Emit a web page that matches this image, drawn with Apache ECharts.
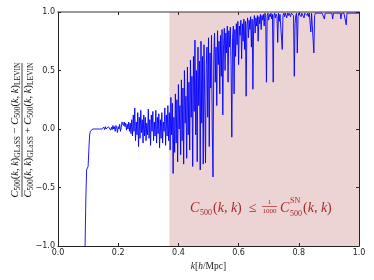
<!DOCTYPE html>
<html>
<head>
<meta charset="utf-8">
<script src="https://cdn.jsdelivr.net/npm/echarts@6/dist/echarts.min.js"></script>
<style>html,body{margin:0;padding:0;background:#fff}#c{width:374px;height:280px}</style>
</head>
<body>
<div id="c"></div>
<script>
// k grid (h/Mpc)
const K_START = 0.09;
const K_STEP = 0.0025;
// relative difference (GLaSS - LEVIN)/(GLaSS + LEVIN)
const ratioValues = [
  -1.0, -0.60, -0.35, -0.34, -0.32, -0.18, -0.05, -0.02, -0.01, -0.005, 0.0, 0.0, 0.005, 0.0, 0.005, 0.005, 0.0, 0.005, 0.01, 0.0,
  0.005, 0.01, 0.0, 0.01, 0.005, 0.015, -0.005, 0.02, 0.0, 0.015, -0.01, 0.02, 0.005, 0.025, -0.01, 0.015, -0.005, 0.03, 0.0, 0.02,
  -0.02, 0.03, 0.01, -0.03, 0.02, 0.0, 0.04, -0.02, 0.01, 0.06, 0.075, 0.03, 0.06, 0.02, 0.05, -0.01, 0.04, 0.0, 0.06, -0.02,
  0.05, -0.04, 0.08, -0.06, 0.12, -0.02, 0.18, -0.10, 0.06, -0.05, 0.14, -0.15, 0.10, -0.08, 0.16, -0.03, 0.08, -0.12, 0.12, -0.06,
  0.10, -0.10, 0.05, -0.05, 0.17, -0.08, 0.08, -0.14, 0.12, -0.02, 0.15, -0.10, 0.06, -0.06, 0.16, -0.12, 0.10, -0.04, 0.13, -0.16,
  0.08, -0.08, 0.14, -0.12, 0.06, -0.02, 0.18, -0.14, 0.12, -0.06, 0.20, -0.10, 0.14, -0.18, 0.27, -0.05, 0.22, -0.38, 0.10, -0.20,
  0.30, -0.12, 0.25, -0.28, 0.38, 0.0, 0.20, -0.22, 0.42, -0.10, 0.35, -0.30, 0.50, 0.05, 0.28, -0.25, 0.53, -0.05, 0.40, -0.18,
  0.59, 0.10, 0.45, -0.32, 0.62, 0.15, 0.76, -0.05, 0.50, -0.28, 0.70, 0.20, 0.58, -0.35, 0.75, 0.05, 0.62, -0.30, 0.72, 0.25,
  -0.29, 0.55, 0.70, 0.10, 0.78, -0.15, 0.65, 0.35, 0.80, 0.0, -0.41, 0.60, 0.82, 0.40, 0.70, 0.20, 0.84, 0.55, 0.75, 0.30,
  0.80, 0.45, 0.85, 0.12, 0.72, 0.86, 0.50, 0.82, 0.65, 0.88, 0.40, 0.84, 0.70, 0.87, 0.55, -0.07, 0.78, 0.88, 0.30, 0.85,
  0.62, 0.90, 0.72, 0.92, 0.55, 0.88, 0.80, 0.93, 0.60, 0.90, 0.75, 0.94, 0.68, 0.92, 0.28, 0.88, 0.95, 0.78, 0.93, 0.85,
  0.96, 0.70, 0.94, 0.34, 0.90, 0.97, 0.82, 0.95, 0.88, 0.97, 0.75, 0.96, 0.90, 0.98, 0.85, 0.97, 0.93, 0.98, 0.88, 0.99,
  0.95, 0.40, 0.97, 0.99, 0.93, 0.98, 0.96, 0.99, 0.94, 0.98, 0.40, 0.97, 0.99, 0.95, 0.98, 0.96, 0.74, 0.99, 0.92, 0.98,
  0.97, 0.99, 0.68, 0.97, 0.99, 0.96, 0.99, 0.98, 0.95, 0.99, 0.97, 0.99, 0.98, 0.96, 0.99, 0.98, 0.99, 0.97, 0.45, 0.90,
  0.97, 0.99, 0.65, 0.96, 0.99, 0.98, 0.99, 0.96, 0.99, 0.98, 0.99, 0.95, 0.99, 0.98, 0.99, 0.97, 0.99, 0.96, 0.99, 0.98,
  0.83, 0.99, 0.98, 0.99, 0.65, 0.97, 0.99, 0.99, 0.98, 0.99, 0.99, 0.98, 0.99, 0.99, 0.98, 0.99, 0.99, 0.98, 0.94, 0.99,
  0.99, 0.98, 0.99, 0.99, 0.98, 0.99, 0.99, 0.98, 0.99, 0.94, 0.99, 0.99, 0.98, 0.99, 0.99, 0.98, 0.99, 0.99, 0.98, 0.99,
  0.94, 0.99, 0.99, 0.98, 0.99, 0.99, 0.98, 0.89, 0.99, 0.99, 0.98, 0.99, 0.99, 0.98, 0.99, 0.99, 0.98, 0.99, 0.99, 0.98,
  0.99, 0.99, 0.98, 0.99, 0.99
];
// shaded region where C500(k,k) <= C500^SN(k,k)/1000
const shadeRange = [0.37, 1.0];
const xTicks = [0.0, 0.2, 0.4, 0.6, 0.8, 1.0];
const yTicks = [-1.0, -0.5, 0.0, 0.5, 1.0];

const seriesData = ratioValues.map((v, i) => [+(K_START + i * K_STEP).toFixed(4), v]);

const SERIF = '"Liberation Serif", "DejaVu Serif", serif';
const SANS = '"DejaVu Sans", sans-serif';
const fmt = v => (v < 0 ? '\u2212' : '') + Math.abs(v).toFixed(1);

const chart = echarts.init(document.getElementById('c'), null, {renderer: 'canvas'});

const tickStyle = {show: true, inside: true, length: 3, lineStyle: {color: '#222', width: 1}};
const ANN = '#a52a2a';

const labelRich = {
  i: {fontFamily: SERIF, fontStyle: 'italic', fontSize: 10.5, lineHeight: 12.5, verticalAlign: 'middle', fill: '#111', color: '#111'},
  r: {fontFamily: SERIF, fontSize: 10.5, lineHeight: 12.5, verticalAlign: 'middle', fill: '#111', color: '#111'},
  s: {fontFamily: SERIF, fontSize: 7.5, lineHeight: 8.5, verticalAlign: 'bottom', fill: '#111', color: '#111'}
};
const numText = '{i|C}{s|500}{r|(}{i|k}{r|, }{i|k}{r|)}{s|GLaSS}{r| \u2212 }{i|C}{s|500}{r|(}{i|k}{r|, }{i|k}{r|)}{s|LEVIN}';
const denText = '{i|C}{s|500}{r|(}{i|k}{r|, }{i|k}{r|)}{s|GLaSS}{r| + }{i|C}{s|500}{r|(}{i|k}{r|, }{i|k}{r|)}{s|LEVIN}';

const annRich = {
  i: {fontFamily: SERIF, fontStyle: 'italic', fontSize: 14, fill: ANN, color: ANN},
  r: {fontFamily: SERIF, fontSize: 14, fill: ANN, color: ANN}
};

chart.setOption({
  animation: false,
  backgroundColor: '#fff',
  grid: {left: 58, right: 15, top: 12, bottom: 34, containLabel: false},
  xAxis: [{
    type: 'value', min: 0, max: 1, interval: 0.2,
    axisLine: {show: true, onZero: false, lineStyle: {color: '#222', width: 1}},
    axisTick: tickStyle,
    splitLine: {show: false},
    axisLabel: {margin: 3, fontSize: 8, fontFamily: SANS, color: '#222', formatter: v => fmt(v)},
    name: '{i|k}{r|[}{i|h}{r|/Mpc]}',
    nameLocation: 'middle', nameGap: 15,
    nameTextStyle: {
      fontFamily: SERIF, fontSize: 9, color: '#222',
      rich: {
        i: {fontFamily: SERIF, fontStyle: 'italic', fontSize: 9.5, color: '#222'},
        r: {fontFamily: SERIF, fontSize: 9.5, color: '#222'}
      }
    }
  }, {
    type: 'value', min: 0, max: 1, interval: 0.2, position: 'top',
    axisLine: {show: true, onZero: false, lineStyle: {color: '#999', width: 2}},
    axisTick: tickStyle, axisLabel: {show: false}, splitLine: {show: false}
  }],
  yAxis: [{
    type: 'value', min: -1, max: 1, interval: 0.5,
    axisLine: {show: true, onZero: false, lineStyle: {color: '#222', width: 1}},
    axisTick: tickStyle,
    splitLine: {show: false},
    axisLabel: {margin: 3, fontSize: 8, fontFamily: SANS, color: '#222', formatter: v => fmt(v)}
  }, {
    type: 'value', min: -1, max: 1, interval: 0.5, position: 'right',
    axisLine: {show: true, onZero: false, lineStyle: {color: '#222', width: 1}},
    axisTick: tickStyle, axisLabel: {show: false}, splitLine: {show: false}
  }],
  series: [{
    type: 'line',
    data: seriesData,
    showSymbol: false,
    symbol: 'none',
    sampling: null,
    clip: true,
    lineStyle: {color: '#0000ff', width: 0.9},
    markArea: {
      silent: true,
      itemStyle: {color: 'rgba(165,42,42,0.2)'},
      data: [[{xAxis: shadeRange[0]}, {xAxis: shadeRange[1]}]]
    }
  }],
  graphic: [
    {
      type: 'group', x: 22, y: 130, rotation: Math.PI / 2,
      children: [
        {type: 'text', x: 0, y: -6.5, style: {text: numText, rich: labelRich, align: 'center', verticalAlign: 'middle', textAlign: 'center', textVerticalAlign: 'middle'}},
        {type: 'line', shape: {x1: -67, y1: 0, x2: 67, y2: 0}, style: {stroke: '#111', lineWidth: 0.8}},
        {type: 'text', x: 0, y: 6.5, style: {text: denText, rich: labelRich, align: 'center', verticalAlign: 'middle', textAlign: 'center', textVerticalAlign: 'middle'}}
      ]
    },
    {type: 'text', x: 190, y: 208, z: 100, style: {text: 'C', font: 'italic 14px ' + SERIF, fill: ANN, textVerticalAlign: 'middle', verticalAlign: 'middle'}},
    {type: 'text', x: 200, y: 213, z: 100, style: {text: '500', font: '8px ' + SERIF, fill: ANN, textVerticalAlign: 'middle', verticalAlign: 'middle'}},
    {type: 'text', x: 213, y: 208, z: 100, style: {text: '{r|(}{i|k}{r|, }{i|k}{r|)  \u2264}', rich: annRich, textVerticalAlign: 'middle', verticalAlign: 'middle'}},
    {type: 'text', x: 269.5, y: 202.5, z: 100, style: {text: '1', font: '7px ' + SERIF, fill: ANN, align: 'center', textAlign: 'center', textVerticalAlign: 'middle', verticalAlign: 'middle'}},
    {type: 'line', z: 100, shape: {x1: 262, y1: 206.5, x2: 277, y2: 206.5}, style: {stroke: ANN, lineWidth: 0.7}},
    {type: 'text', x: 269.5, y: 211, z: 100, style: {text: '1000', font: '7px ' + SERIF, fill: ANN, align: 'center', textAlign: 'center', textVerticalAlign: 'middle', verticalAlign: 'middle'}},
    {type: 'text', x: 280, y: 208, z: 100, style: {text: 'C', font: 'italic 14px ' + SERIF, fill: ANN, textVerticalAlign: 'middle', verticalAlign: 'middle'}},
    {type: 'text', x: 290, y: 201, z: 100, style: {text: 'SN', font: '8px ' + SERIF, fill: ANN, textVerticalAlign: 'middle', verticalAlign: 'middle'}},
    {type: 'text', x: 290, y: 214, z: 100, style: {text: '500', font: '8px ' + SERIF, fill: ANN, textVerticalAlign: 'middle', verticalAlign: 'middle'}},
    {type: 'text', x: 303, y: 208, z: 100, style: {text: '{r|(}{i|k}{r|, }{i|k}{r|)}', rich: annRich, textVerticalAlign: 'middle', verticalAlign: 'middle'}}
  ]
});
</script>
</body>
</html>
